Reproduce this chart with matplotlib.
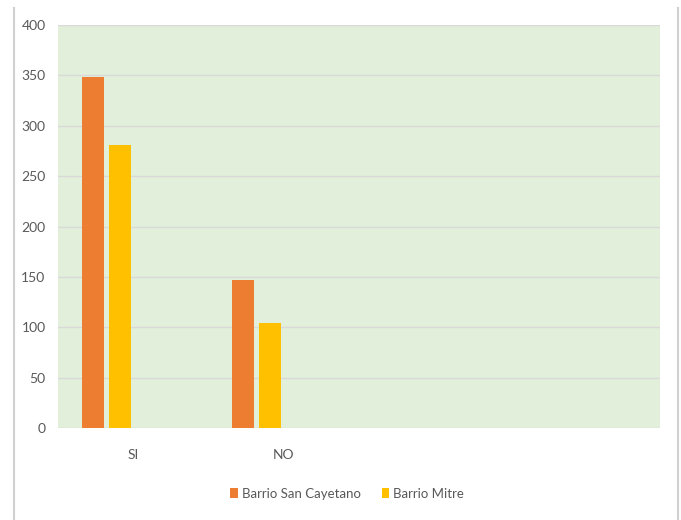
import matplotlib.pyplot as plt
from matplotlib.lines import Line2D
from matplotlib.patches import Patch
import numpy as np

# Datos de la encuesta por barrio
categorias = ["SI", "NO", "", ""]
san_cayetano = [348, 147]
mitre = [281, 104]
series = ["Barrio San Cayetano", "Barrio Mitre"]
colores = ["#ED7D31", "#FFC000"]

plt.rcParams["font.family"] = ["Lato", "DejaVu Sans"]
gris = "#595959"

fig = plt.figure(figsize=(6.81, 5.20), dpi=100)
ax = fig.add_axes([58 / 681, 1 - 428 / 520, 602 / 681, 403 / 520])
ax.set_facecolor("#E2EFDA")

x = np.arange(len(categorias))
ancho = 0.146
paso = 0.18
# cuatro series por grupo (las dos últimas vacías)
for i, (vals, col) in enumerate(zip([san_cayetano, mitre], colores)):
    ax.bar(x[:len(vals)] + (i - 1.5) * paso, vals, width=ancho, color=col, zorder=3)

ax.set_xlim(-0.5, len(categorias) - 0.5)
ax.set_ylim(0, 400)
ax.set_yticks(range(0, 401, 50))
ax.set_xticks(x)
ax.set_xticklabels(categorias)
ax.yaxis.grid(True, color="#D9D9D9", lw=1, zorder=0)
ax.set_axisbelow(True)
for s in ax.spines.values():
    s.set_visible(False)
ax.tick_params(axis="both", length=0, colors=gris, labelsize=10)
ax.tick_params(axis="y", pad=9)
ax.tick_params(axis="x", pad=15)

handles = [Patch(facecolor=c, label=l) for c, l in zip(colores, series)]
fig.legend(handles=handles, loc="center", bbox_to_anchor=(347 / 681, 1 - 494 / 520),
           ncol=2, frameon=False, handlelength=0.6, handleheight=0.8,
           handletextpad=0.3, columnspacing=1.6, fontsize=9.5, labelcolor=gris)

# borde del área del gráfico
for xf in (14 / 681, 678 / 681):
    fig.add_artist(Line2D([xf, xf], [0, 1 - 8 / 520], transform=fig.transFigure,
                          color="#D0D0D0", lw=1.5))

fig.savefig("out.png", dpi=100)
